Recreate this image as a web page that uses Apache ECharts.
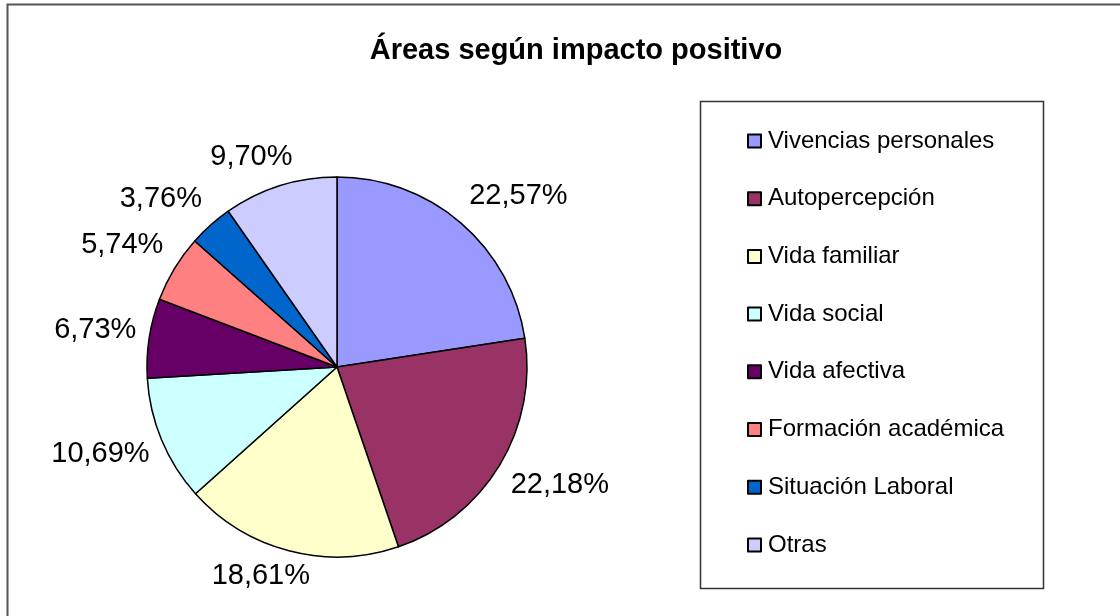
<!DOCTYPE html>
<html>
<head>
<meta charset="utf-8">
<script src="https://cdn.jsdelivr.net/npm/echarts@6/dist/echarts.min.js"></script>
<style>
  html, body { margin: 0; padding: 0; background: #fff; }
  #chart { width: 1120px; height: 616px; }
</style>
</head>
<body>
<div id="chart"></div>
<script>
// datos
const categorias = ['Vivencias personales', 'Autopercepción', 'Vida familiar', 'Vida social',
  'Vida afectiva', 'Formación académica', 'Situación Laboral', 'Otras']
const porcentajes = [22.57, 22.18, 18.61, 10.69, 6.73, 5.74, 3.76, 9.70]
const colores = ['#9999FF', '#993366', '#FFFFCC', '#CCFFFF', '#660066', '#FF8080', '#0066CC', '#CCCCFF']

const chart = echarts.init(document.getElementById('chart'))
const fuente = 'Arial, "Liberation Sans", sans-serif'

const centro = [337, 367]
const radio = 190
const total = porcentajes.reduce((a, b) => a + b, 0)

// ángulo medio de cada sector (sentido horario desde arriba)
const medios = []
let acum = 0
porcentajes.forEach(v => {
  medios.push((acum + v / 2) / total * Math.PI * 2)
  acum += v
})

const clamp = v => Math.max(-1, Math.min(1, v))

// etiquetas al estilo Excel: la esquina más cercana del texto toca un círculo algo mayor que el pastel
function colocarEtiqueta(params) {
  const a = medios[params.dataIndex]
  const s = Math.sin(a), c = Math.cos(a)
  const r = radio + 13
  const ax = centro[0] + r * s
  const ay = centro[1] - r * c
  const w = params.labelRect.width, h = params.labelRect.height
  return {
    x: ax + (w / 2) * clamp(s * 2),
    y: ay - (h / 2) * clamp(c * 2) - 2,
    align: 'center',
    verticalAlign: 'middle'
  }
}

chart.setOption({
  animation: false,
  color: colores,
  title: {
    text: 'Áreas según impacto positivo',
    left: 571,
    top: 31,
    textAlign: 'center',
    textStyle: { fontFamily: fuente, fontSize: 29, fontWeight: 'bold', color: '#000' }
  },
  legend: {
    orient: 'vertical',
    left: 747,
    top: 129,
    padding: 0,
    icon: 'rect',
    itemWidth: 13,
    itemHeight: 13,
    itemGap: 33.7,
    textStyle: { fontFamily: fuente, fontSize: 24, lineHeight: 24, color: '#000', padding: [0, 0, 0, 2] },
    data: categorias
  },
  graphic: [
    { type: 'rect', shape: { x: 7.5, y: 4.5, width: 1120, height: 620 },
      style: { fill: 'none', stroke: '#555', lineWidth: 2 }, silent: true },
    { type: 'rect', shape: { x: 700.5, y: 101.5, width: 343, height: 487 },
      style: { fill: 'none', stroke: '#333', lineWidth: 1.5 }, silent: true }
  ],
  series: [{
    type: 'pie',
    center: centro,
    radius: radio,
    startAngle: 90,
    clockwise: true,
    avoidLabelOverlap: false,
    itemStyle: { borderColor: '#000', borderWidth: 1.5 },
    label: {
      show: true,
      position: 'outside',
      fontFamily: fuente,
      fontSize: 29,
      color: '#000',
      formatter: p => p.value.toFixed(2).replace('.', ',') + '%'
    },
    labelLine: { show: false },
    labelLayout: colocarEtiqueta,
    emphasis: { disabled: true },
    data: categorias.map((c, i) => ({ name: c, value: porcentajes[i] }))
  }]
})
</script>
</body>
</html>
